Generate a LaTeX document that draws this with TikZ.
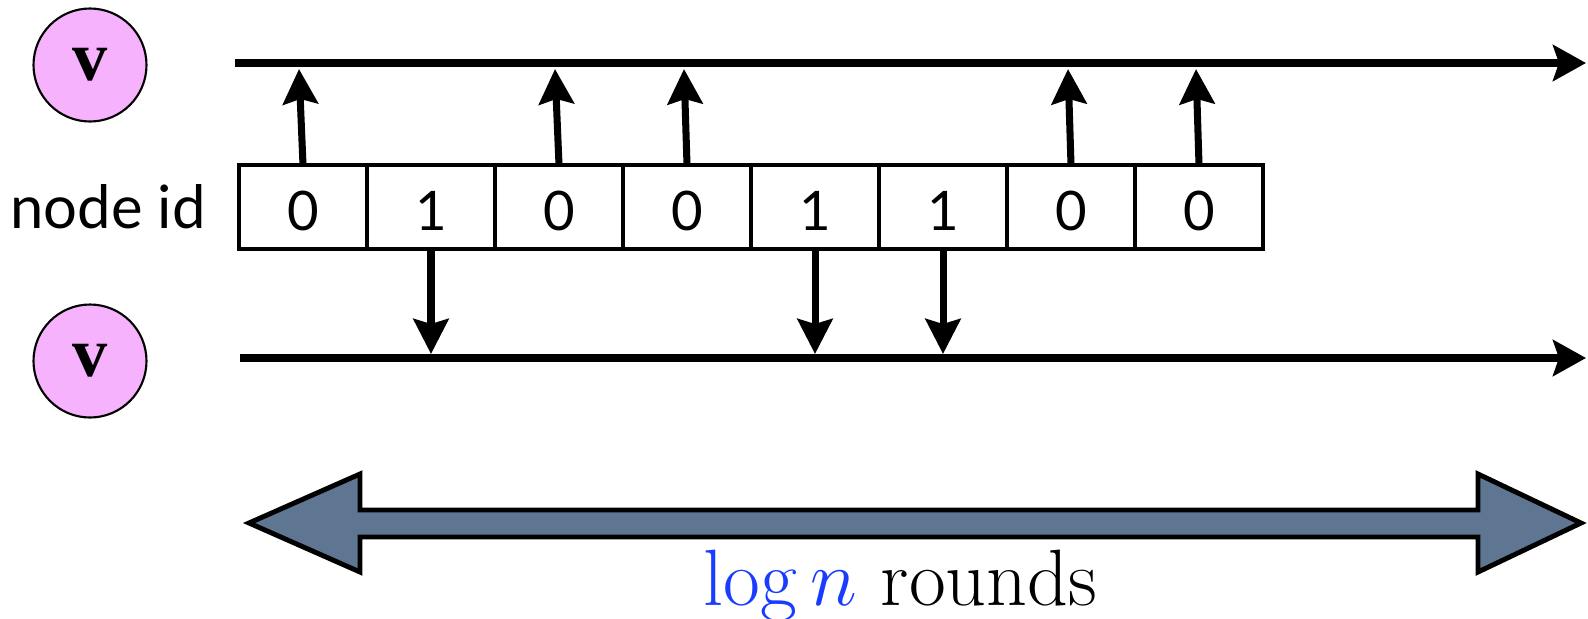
\RequirePackage{fix-cm}
\documentclass[tikz,border=0pt]{standalone}
\usepackage{fontspec}
\usepackage{xcolor}
\usepackage{tikz}
\usetikzlibrary{arrows.meta,calc,positioning}
\newfontfamily\labelfont{Lato}
\newfontfamily\vertexfont{Liberation Serif}
\definecolor{vertexpink}{HTML}{F6B2FC}
\definecolor{slateblue}{HTML}{5E7691}
\definecolor{logblue}{HTML}{1A3CFF}
\tikzset{
  vertex/.style={
    circle,
    draw=black,
    fill=vertexpink,
    line width=1.2pt,
    minimum size=2.26cm,
    inner sep=0pt,
    font=\vertexfont\bfseries\fontsize{40}{42}\selectfont
  },
  idcell/.style={
    draw=black,
    line width=2.8pt,
    minimum width=2.56cm,
    minimum height=1.68cm,
    inner sep=0pt,
    outer sep=0pt,
    text height=0.94cm,
    text depth=0pt,
    font=\labelfont\fontsize{31}{34}\selectfont
  },
  idlabel/.style={
    font=\labelfont\fontsize{34}{37}\selectfont,
    inner sep=0pt
  },
  timeline/.style={
    -{Stealth[length=0.66cm,width=0.72cm,inset=0.12cm]},
    line width=4pt,
    draw=black
  },
  idarrow/.style={
    -{Stealth[length=0.7cm,width=0.7cm,inset=0.1cm]},
    line width=4pt,
    draw=black
  },
  spanarrow/.style={
    draw=black,
    fill=slateblue,
    line width=2.8pt,
    line join=miter
  }
}

\begin{document}
\begin{tikzpicture}[x=0.2mm,y=-0.2mm]
    \useasboundingbox (0,0) rectangle (1588,618);

    % the node v, once per round
    \node[vertex] (vtop) at (90,65) {v};
    \node[vertex] (vbot) at (90,361) {v};

    % time lines
    \coordinate (ts) at (235,63);
    \coordinate (te) at (1586,63);
    \coordinate (bs) at (240,358);
    \coordinate (be) at (1586,358);
    \draw[timeline] (ts) -- (te);
    \draw[timeline] (bs) -- (be);

    % bits of the node id
    \node[idcell] (c1) at (303,207) {0};
    \node[idcell, right=0pt of c1] (c2) {1};
    \node[idcell, right=0pt of c2] (c3) {0};
    \node[idcell, right=0pt of c3] (c4) {0};
    \node[idcell, right=0pt of c4] (c5) {1};
    \node[idcell, right=0pt of c5] (c6) {1};
    \node[idcell, right=0pt of c6] (c7) {0};
    \node[idcell, right=0pt of c7] (c8) {0};
    \node[idlabel, left=0.66cm of c1] (idname) {node id};

    % zeros go up, ones go down
    \draw[idarrow] (c1.north) -- ($(c1.north |- ts)+(-4,6)$);
    \draw[idarrow] (c3.north) -- ($(c3.north |- ts)+(-4,6)$);
    \draw[idarrow] (c4.north) -- ($(c4.north |- ts)+(-3,6)$);
    \draw[idarrow] (c7.north) -- ($(c7.north |- ts)+(-3,6)$);
    \draw[idarrow] (c8.north) -- ($(c8.north |- ts)+(-3,6)$);
    \draw[idarrow] (c2.south) -- ($(c2.south |- bs)+(0,-4)$);
    \draw[idarrow] (c5.south) -- ($(c5.south |- bs)+(0,-4)$);
    \draw[idarrow] (c6.south) -- ($(c6.south |- bs)+(0,-4)$);

    % span of all rounds
    \draw[spanarrow] (249,523) -- (360,474) -- (360,510) -- (1478,510)
        -- (1478,474) -- (1581,523) -- (1478,572) -- (1478,537)
        -- (360,537) -- (360,572) -- cycle;
    \node[anchor=base west, inner sep=0pt, font=\fontsize{45.5}{52}\selectfont] (rounds) at (703,605)
        {\textcolor{logblue}{$\log n$} rounds};
\end{tikzpicture}
\end{document}
